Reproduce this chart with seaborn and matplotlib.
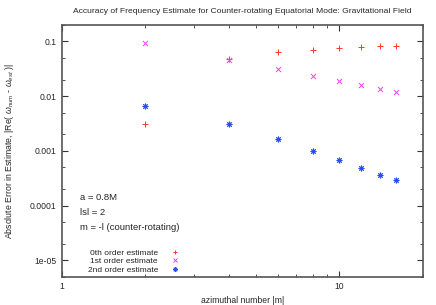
import numpy as np
import pandas as pd
import matplotlib
matplotlib.use("Agg")
import matplotlib.pyplot as plt
from matplotlib.lines import Line2D
from matplotlib.ticker import LogLocator, FuncFormatter, NullFormatter
import seaborn as sns

# --- data ---
m_values = [2, 4, 6, 8, 10, 12, 14, 16]
err_0th = [0.0031, 0.048, 0.064, 0.071, 0.077, 0.080, 0.081, 0.083]
err_1st = [0.092, 0.046, 0.031, 0.0235, 0.0188, 0.0159, 0.0137, 0.012]
err_2nd = [0.0067, 0.0031, 0.00164, 0.0010, 0.00067, 0.00048, 0.00036, 0.00029]

series_labels = ["0th order estimate", "1st order estimate", "2nd order estimate"]
series_colors = ["#ff3a20", "#f040f0", "#2a4cff"]
series_markers = ["+", "x", (8, 2, 0)]
annotations = ["a = 0.8M", "lsl = 2", "m = -l (counter-rotating)"]

sns.set_style("ticks")
plt.rcParams["font.family"] = ["Liberation Sans", "DejaVu Sans"]
plt.rcParams["mathtext.fontset"] = "custom"
plt.rcParams["mathtext.rm"] = "Liberation Sans"
plt.rcParams["mathtext.it"] = "Liberation Sans:italic"

fig = plt.figure(figsize=(4.36, 3.05), dpi=100)
ax = fig.add_axes([0.142, 0.092, 0.828, 0.826])

handles = []
for vals, lab, col, mk in zip([err_0th, err_1st, err_2nd], series_labels,
                              series_colors, series_markers):
    df = pd.DataFrame({"m": m_values, "err": vals})
    sns.scatterplot(data=df, x="m", y="err", ax=ax, marker=mk, color=col,
                    s=13, linewidth=0.7, legend=False)
    handles.append(Line2D([], [], linestyle="none", marker=mk, color=col,
                          markersize=3.4, markeredgewidth=0.7, label=lab))

ax.set_xscale("log")
ax.set_yscale("log")
ax.set_xlim(1, 20)
ax.set_ylim(5e-6, 0.2)

ax.xaxis.set_major_locator(LogLocator(base=10, subs=(1.0,)))
ax.xaxis.set_minor_locator(LogLocator(base=10, subs=np.arange(2, 10)))
ax.yaxis.set_major_locator(LogLocator(base=10, subs=(1.0,)))
ax.yaxis.set_minor_locator(LogLocator(base=10, subs=(2.0, 5.0)))
fmt = FuncFormatter(lambda v, p: "%g" % v)
ax.xaxis.set_major_formatter(fmt)
ax.yaxis.set_major_formatter(fmt)
ax.xaxis.set_minor_formatter(NullFormatter())
ax.yaxis.set_minor_formatter(NullFormatter())

ax.tick_params(which="both", direction="in", top=True, right=True,
               color="#333333", labelsize=6.2, pad=4)
ax.tick_params(which="major", length=4.5, width=0.8)
ax.tick_params(which="minor", length=2.5, width=0.6)
for sp in ax.spines.values():
    sp.set_color("#555555")
    sp.set_linewidth(1.2)

ax.set_title("Accuracy of Frequency Estimate for Counter-rotating Equatorial Mode: Gravitational Field",
             fontsize=6.1, pad=9)
ax.set_xlabel("azimuthal number |m|", fontsize=6.2, labelpad=3)
ax.set_ylabel(r"Absolute Error in Estimate, |Re( $\omega_{num}$ - $\omega_{est}$ )|",
              fontsize=6.3, labelpad=10)

for i, txt in enumerate(annotations):
    ax.text(0.05, 0.315 - 0.059 * i, txt, transform=ax.transAxes,
            fontsize=6.8, va="center", ha="left")

ax.legend(handles=handles, loc="lower left", bbox_to_anchor=(0.048, -0.02),
          markerfirst=False, frameon=False, fontsize=6.0, handlelength=1.0,
          handletextpad=1.5, labelspacing=0.05, borderpad=0.5)

fig.savefig("out.png", dpi=100)
